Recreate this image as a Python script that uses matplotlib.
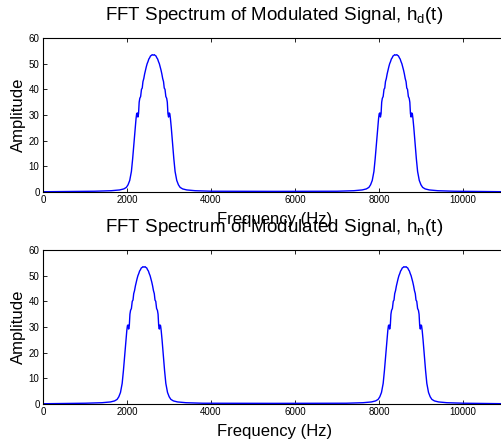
import numpy as np
import matplotlib
matplotlib.use("Agg")
import matplotlib.pyplot as plt

plt.rcParams['font.family'] = ['Liberation Sans', 'DejaVu Sans']

# Peak profile (offset from peak centre in Hz, amplitude)
shape_off = [-1400, -1000, -800, -700, -640, -600, -560, -520, -490, -460, -430, -410,
             -395, -380, -365, -350, -335, -320, -300, -280, -262, -245, -225, -205,
             -185, -165, -145, -125, -105, -85, -65, -45, -25, 0,
             25, 45, 65, 85, 105, 125, 145, 165, 185, 205, 225, 245, 262, 280, 300,
             320, 335, 350, 365, 380, 395, 410, 430, 460, 490, 520, 560, 600, 640,
             700, 800, 1000, 1400]
shape_amp = [0.3, 0.5, 0.8, 1.2, 1.8, 2.8, 4.5, 8.0, 13.0, 19.0, 25.0, 28.5,
             30.5, 30.8, 29.2, 30.5, 35.0, 36.5, 37.2, 40.0, 40.5, 43.0, 44.2, 46.0,
             47.5, 48.8, 50.0, 50.8, 51.8, 52.3, 53.0, 53.2, 53.5, 53.3,
             53.5, 53.2, 53.0, 52.3, 51.8, 50.8, 50.0, 48.8, 47.5, 46.0, 44.2, 43.0, 40.5, 40.0, 37.2,
             36.5, 35.0, 30.5, 29.2, 30.8, 30.5, 28.5, 25.0, 19.0, 13.0, 8.0, 4.5, 2.8, 1.8,
             1.2, 0.8, 0.5, 0.3]

fs = 11025
peaks_d = [2625, 8400]
peaks_n = [2405, 8620]
edge_amp = 0.1
mid_amp = 0.25

titles = ['FFT Spectrum of Modulated Signal, h$_\\mathregular{d}$(t)',
          'FFT Spectrum of Modulated Signal, h$_\\mathregular{n}$(t)']
xticks = [0, 2000, 4000, 6000, 8000, 10000]
yticks = [0, 10, 20, 30, 40, 50, 60]


def build(centres):
    off = np.array(shape_off, float)
    amp = np.array(shape_amp, float)
    f = np.concatenate([[0], centres[0] + off, [fs / 2], centres[1] + off, [fs]])
    a = np.concatenate([[edge_amp], amp, [mid_amp], amp, [edge_amp]])
    return f, a


fig = plt.figure(figsize=(5.02, 4.41), dpi=100)
W, H = 502, 441
left = 43 / W
width = 463 / W
axes_pos = [(38, 192), (250, 404)]

for (top, bot), centres, title in zip(axes_pos, [peaks_d, peaks_n], titles):
    ax = fig.add_axes([left, 1 - bot / H, width, (bot - top) / H])
    f, a = build(centres)
    ax.plot(f, a, color='#0000ff', lw=1.0)
    ax.set_xlim(0, fs)
    ax.set_ylim(0, 60)
    ax.set_xticks(xticks)
    ax.set_yticks(yticks)
    ax.tick_params(direction='in', top=True, right=True, labelsize=7, length=3, width=0.6, pad=2.5)
    for s in ax.spines.values():
        s.set_linewidth(0.8)
    ax.set_title(title, fontsize=13.5, pad=13)
    ax.set_xlabel('Frequency (Hz)', fontsize=12, labelpad=4.5)
    ax.set_ylabel('Amplitude', fontsize=12, labelpad=2)

fig.savefig('out.png', dpi=100)
